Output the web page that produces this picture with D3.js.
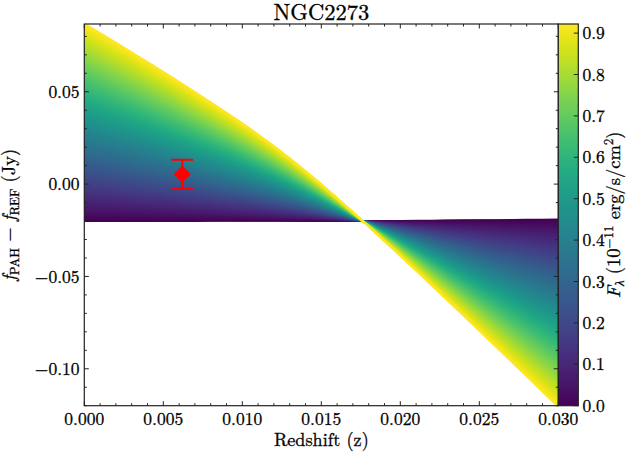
<!DOCTYPE html>
<html><head><meta charset="utf-8">
<script src="https://cdn.jsdelivr.net/npm/d3@7"></script>
<style>
html,body{margin:0;padding:0;background:#fff;}
</style></head>
<body>
<svg id="chart" width="626" height="455"></svg>
<script>
// ---- data ----
const titleText = "NGC2273";
const redshiftGrid = [0.000,0.002,0.004,0.006,0.008,0.010,0.012,0.014,0.016,0.018,0.020,0.022,0.024,0.026,0.028,0.030];
// curve for the brightest flux (F = 0.922)
const brightestCurve = [0.0870,0.0767,0.0662,0.0555,0.0444,0.0330,0.0207,0.0072,-0.0075,-0.0230,-0.0389,-0.0550,-0.0713,-0.0877,-0.1042,-0.1207];
// curve for zero flux
const zeroFluxCurve = [-0.0201,-0.0201,-0.0201,-0.0201,-0.0200,-0.0200,-0.0200,-0.0200,-0.0200,-0.0200,-0.0199,-0.0197,-0.0195,-0.0194,-0.0192,-0.0191];
const fluxMin = 0.0, fluxMax = 0.922;
const nFluxLevels = 300;
const measuredZ = [0.0062];
const measuredDiff = [0.0053];
const measuredErr = [0.0079];
const xTicks = [0.000,0.005,0.010,0.015,0.020,0.025,0.030];
const yTicks = [-0.10,-0.05,0.00,0.05];
const cbTicks = [0.0,0.1,0.2,0.3,0.4,0.5,0.6,0.7,0.8,0.9];
const xDomain = [0, 0.030], yDomain = [-0.12, 0.0867];

// ---- layout ----
const FONT = "Latin Modern Roman";
const L = 84.3, R = 558.3, T = 24, B = 405.7;
const cbL = 558.3, cbR = 578.3;
const svg = d3.select("#chart");
const x = d3.scaleLinear().domain(xDomain).range([L, R]);
const y = d3.scaleLinear().domain(yDomain).range([B, T]);
const cbScale = d3.scaleLinear().domain([fluxMin, fluxMax]).range([B, T]);
const color = d3.scaleSequential(d3.interpolateViridis).domain([fluxMin, fluxMax]);

const defs = svg.append("defs");
defs.append("clipPath").attr("id","clip")
  .append("rect").attr("x",L).attr("y",T).attr("width",R-L).attr("height",B-T);

// family of curves
const levels = d3.range(nFluxLevels).map(i => fluxMin + (fluxMax - fluxMin) * i / (nFluxLevels - 1));
const line = d3.line().x(d => x(d[0])).y(d => y(d[1])).curve(d3.curveMonotoneX);
const g = svg.append("g").attr("clip-path","url(#clip)");
levels.forEach(F => {
  const t = (F - fluxMin) / (fluxMax - fluxMin);
  const pts = redshiftGrid.map((z, i) => [z, zeroFluxCurve[i] + t * (brightestCurve[i] - zeroFluxCurve[i])]);
  g.append("path").attr("d", line(pts)).attr("fill","none")
    .attr("stroke", color(F)).attr("stroke-width", 1.6);
});

// measured point with error bar
const red = "#ff0000";
measuredZ.forEach((z, i) => {
  const cx = x(z), cy = y(measuredDiff[i]);
  const y1 = y(measuredDiff[i] + measuredErr[i]), y2 = y(measuredDiff[i] - measuredErr[i]);
  g.append("line").attr("x1",cx).attr("x2",cx).attr("y1",y1).attr("y2",y2).attr("stroke",red).attr("stroke-width",2);
  [y1,y2].forEach(yy => g.append("line").attr("x1",cx-11).attr("x2",cx+11).attr("y1",yy).attr("y2",yy).attr("stroke",red).attr("stroke-width",2.2));
  const s = 8.5;
  g.append("path").attr("d",`M${cx},${cy-s}L${cx+s},${cy}L${cx},${cy+s}L${cx-s},${cy}Z`).attr("fill",red);
});

// axes frame and ticks
const tickCol = "#222";
const ax = svg.append("g");
const xMinor = d3.range(0, 31).map(i => i * 0.001);
const yMinor = d3.range(-12, 9).map(i => i * 0.01);
function tick(x1,y1,x2,y2){ ax.append("line").attr("x1",x1).attr("y1",y1).attr("x2",x2).attr("y2",y2).attr("stroke",tickCol).attr("stroke-width",1); }
xMinor.forEach(v => { const px = x(v); const major = xTicks.some(t => Math.abs(t - v) < 1e-9); const len = major ? 4.5 : 2.5; tick(px,B,px,B-len); tick(px,T,px,T+len); });
yMinor.forEach(v => { if (y(v) < T-0.1 || y(v) > B+0.1) return; const py = y(v); const major = yTicks.some(t => Math.abs(t - v) < 1e-9); const len = major ? 4.5 : 2.5; tick(L,py,L+len,py); tick(R,py,R-len,py); });
ax.append("rect").attr("x",L).attr("y",T).attr("width",R-L).attr("height",B-T).attr("fill","none").attr("stroke",tickCol).attr("stroke-width",1.2);

function txt(){ return svg.append("text").attr("font-family",FONT).attr("fill","#000").attr("stroke","#000").attr("stroke-width",0.3); }

// tick labels
const fx = d3.format(".3f"), fy = d3.format(".2f"), fc = d3.format(".1f");
xTicks.forEach(v => txt().attr("x",x(v)).attr("y",425).attr("text-anchor","middle").attr("font-size",17.5).text(fx(v)));
yTicks.forEach(v => txt().attr("x",79.5).attr("y",y(v)).attr("dy","0.35em").attr("text-anchor","end").attr("font-size",17.5).text(fy(v)));

// title and axis labels
txt().attr("x",(L+R)/2).attr("y",20).attr("text-anchor","middle").attr("font-size",22.5).text(titleText);
txt().attr("x",(L+R)/2).attr("y",446).attr("text-anchor","middle").attr("font-size",18.2).text("Redshift (z)");

const yl = txt().attr("transform",`translate(15,${(T+B)/2}) rotate(-90)`).attr("text-anchor","middle").attr("font-size",18.5);
yl.append("tspan").attr("font-style","italic").text("f");
yl.append("tspan").attr("font-size",13).attr("dy",3.5).text("PAH");
yl.append("tspan").attr("dy",-3.5).text(" − ");
yl.append("tspan").attr("font-style","italic").text("f");
yl.append("tspan").attr("font-size",13).attr("dy",3.5).text("REF");
yl.append("tspan").attr("dy",-3.5).text(" (Jy)");

// colorbar
const grad = defs.append("linearGradient").attr("id","cbgrad").attr("x1",0).attr("y1",1).attr("x2",0).attr("y2",0);
d3.range(0, 51).forEach(i => grad.append("stop").attr("offset", i/50).attr("stop-color", d3.interpolateViridis(i/50)));
svg.append("rect").attr("x",cbL).attr("y",T).attr("width",cbR-cbL).attr("height",B-T).attr("fill","url(#cbgrad)");
cbTicks.forEach(v => {
  const py = cbScale(v);
  svg.append("line").attr("x1",cbR).attr("x2",cbR-4.5).attr("y1",py).attr("y2",py).attr("stroke",tickCol).attr("stroke-width",1);
  txt().attr("x",582.5).attr("y",py).attr("dy","0.35em").attr("font-size",17.5).text(fc(v));
});
svg.append("rect").attr("x",cbL).attr("y",T).attr("width",cbR-cbL).attr("height",B-T).attr("fill","none").attr("stroke",tickCol).attr("stroke-width",1.2);

const cl = txt().attr("transform",`translate(620,${(T+B)/2}) rotate(-90)`).attr("text-anchor","middle").attr("font-size",18.5);
cl.append("tspan").attr("font-style","italic").text("F");
cl.append("tspan").attr("font-style","italic").attr("font-size",13).attr("dy",3.5).text("λ");
cl.append("tspan").attr("dy",-3.5).text(" (10");
cl.append("tspan").attr("font-size",13).attr("dy",-7.5).text("−11");
cl.append("tspan").attr("dy",7.5).text(" erg/s/cm");
cl.append("tspan").attr("font-size",13).attr("dy",-7.5).text("2");
cl.append("tspan").attr("dy",7.5).text(")");
</script>
</body></html>
